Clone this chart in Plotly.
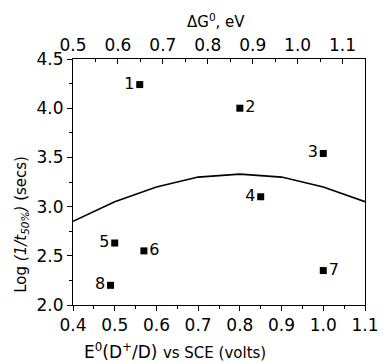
import plotly.graph_objects as go

# data
pt_x = [0.56, 0.80, 1.00, 0.85, 0.50, 0.57, 1.00, 0.49]
pt_y = [4.24, 4.00, 3.54, 3.10, 2.63, 2.55, 2.35, 2.20]
pt_lab = ["1", "2", "3", "4", "5", "6", "7", "8"]
pt_side = ["middle left", "middle right", "middle left", "middle left",
           "middle left", "middle right", "middle right", "middle left"]
curve_x = [0.4, 0.5, 0.6, 0.7, 0.8, 0.9, 1.0, 1.1]
curve_y = [2.85, 3.05, 3.20, 3.30, 3.33, 3.30, 3.20, 3.05]

FONT = "DejaVu Sans, Liberation Sans, Arial, sans-serif"

fig = go.Figure()
fig.add_trace(go.Scatter(x=curve_x, y=curve_y, mode="lines",
                         line=dict(color="black", width=1.6), showlegend=False,
                         hoverinfo="skip"))
fig.add_trace(go.Scatter(x=pt_x, y=pt_y, mode="markers+text", text=pt_lab,
                         textposition=pt_side,
                         textfont=dict(family=FONT, size=16, color="black"),
                         marker=dict(symbol="square", size=7, color="black"),
                         showlegend=False))
# invisible trace to anchor the top axis
fig.add_trace(go.Scatter(x=[0.5, 1.15], y=[2.0, 2.0], xaxis="x2", mode="markers",
                         marker=dict(opacity=0), showlegend=False, hoverinfo="skip"))

fig.update_layout(
    width=391, height=364,
    margin=dict(l=73, r=14, t=59, b=59),
    paper_bgcolor="white", plot_bgcolor="white",
    font=dict(family=FONT, size=17, color="black"),
    xaxis=dict(range=[0.4, 1.1], dtick=0.1, tick0=0.4, tickformat=".1f",
               showline=True, linecolor="black", linewidth=1, mirror=False,
               ticks="outside", ticklen=5, tickcolor="black", showgrid=False, zeroline=False,
               minor=dict(ticks="outside", ticklen=3, dtick=0.05, tickcolor="black"),
               tickfont=dict(size=17)),
    xaxis2=dict(range=[0.5, 1.15], dtick=0.1, tick0=0.5, tickformat=".1f",
                overlaying="x", side="top", anchor="y",
                showline=True, linecolor="black", linewidth=1,
                ticks="inside", ticklen=5, tickcolor="black", showgrid=False, zeroline=False,
                minor=dict(ticks="inside", ticklen=3, dtick=0.05, tickcolor="black"),
                tickfont=dict(size=17)),
    yaxis=dict(range=[2.0, 4.5], dtick=0.5, tick0=2.0, tickformat=".1f",
               showline=True, linecolor="black", linewidth=1, mirror=True,
               ticks="outside", ticklen=5, tickcolor="black", showgrid=False, zeroline=False,
               minor=dict(ticks="outside", ticklen=3, dtick=0.25, tickcolor="black"),
               tickfont=dict(size=17)),
    annotations=[
        dict(text="E<sup>0</sup>(D<sup>+</sup>/D) <span style='font-size:15px'>vs SCE (volts)</span>",
             xref="paper", yref="paper", x=0.35, y=-0.238, xanchor="center", yanchor="bottom",
             showarrow=False, font=dict(size=17)),
        dict(text="ΔG<sup>0</sup>, eV", xref="paper", yref="paper", x=0.49, y=1.155,
             xanchor="center", yanchor="middle", showarrow=False, font=dict(size=15)),
        dict(text="Log <i>(1/t<sub>50%</sub>)</i> (secs)", xref="paper", yref="paper",
             x=-0.175, y=0.33, xanchor="center", yanchor="middle", textangle=-90,
             showarrow=False, font=dict(size=15)),
    ],
)
fig.write_html("out.html")
